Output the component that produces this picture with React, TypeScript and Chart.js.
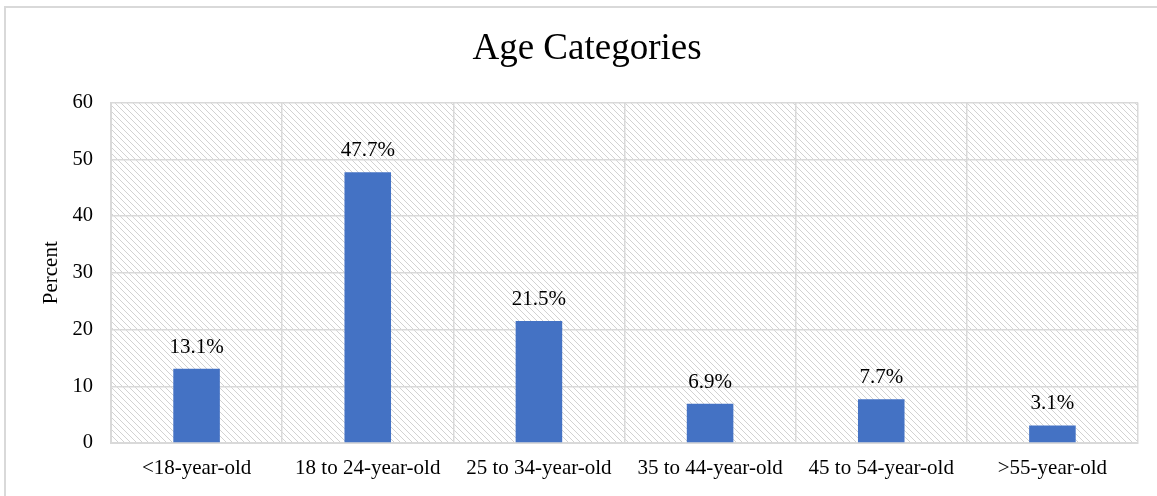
import React, { useEffect, useRef } from "react";
import { Chart, registerables } from "chart.js";

Chart.register(...registerables);

const categories = ["<18-year-old", "18 to 24-year-old", "25 to 34-year-old", "35 to 44-year-old", "45 to 54-year-old", ">55-year-old"];
const percentValues = [13.1, 47.7, 21.5, 6.9, 7.7, 3.1];
const valueLabels = ["13.1%", "47.7%", "21.5%", "6.9%", "7.7%", "3.1%"];
const titleText = "Age Categories";
const yAxisTitle = "Percent";

const FONT = "'Liberation Serif', 'Times New Roman', serif";

function makeHatch(): CanvasPattern | string {
  const s = 6;
  const c = document.createElement("canvas");
  c.width = s;
  c.height = s;
  const g = c.getContext("2d");
  if (!g) return "#fff";
  g.fillStyle = "#ffffff";
  g.fillRect(0, 0, s, s);
  g.strokeStyle = "#d2d2d2";
  g.lineWidth = 1;
  g.beginPath();
  g.moveTo(-1, -1);
  g.lineTo(s + 1, s + 1);
  g.moveTo(-1, s - 1);
  g.lineTo(1, s + 1);
  g.moveTo(s - 1, -1);
  g.lineTo(s + 1, 1);
  g.stroke();
  const p = g.createPattern(c, "repeat");
  return p || "#fff";
}

const hatchPlugin = {
  id: "hatchBg",
  beforeDraw(chart: any) {
    const { ctx, chartArea } = chart;
    ctx.save();
    ctx.fillStyle = makeHatch();
    ctx.fillRect(chartArea.left, chartArea.top, chartArea.right - chartArea.left, chartArea.bottom - chartArea.top);
    ctx.restore();
  },
};

const titlePlugin = {
  id: "customTitle",
  afterDraw(chart: any) {
    const { ctx } = chart;
    ctx.save();
    ctx.font = `37px ${FONT}`;
    ctx.fillStyle = "#000";
    ctx.textAlign = "center";
    ctx.textBaseline = "alphabetic";
    ctx.fillText(titleText, 587, 59);
    ctx.restore();
  },
};

const labelPlugin = {
  id: "barLabels",
  afterDatasetsDraw(chart: any) {
    const { ctx } = chart;
    const meta = chart.getDatasetMeta(0);
    ctx.save();
    ctx.font = `21px ${FONT}`;
    ctx.fillStyle = "#000";
    ctx.textAlign = "center";
    ctx.textBaseline = "alphabetic";
    meta.data.forEach((bar: any, i: number) => {
      ctx.fillText(valueLabels[i], bar.x, bar.y - 16);
    });
    ctx.restore();
  },
};

export default function App() {
  const ref = useRef<HTMLCanvasElement>(null);
  useEffect(() => {
    if (!ref.current) return;
    const chart = new Chart(ref.current, {
      type: "bar",
      data: {
        labels: categories,
        datasets: [
          {
            data: percentValues,
            backgroundColor: "#4472C4",
            borderWidth: 0,
            categoryPercentage: 1,
            barPercentage: 0.272,
          },
        ],
      },
      options: {
        responsive: false,
        animation: false,
        devicePixelRatio: 1,
        layout: { padding: { left: 0, right: 19, top: 102.5, bottom: 0 } },
        plugins: {
          legend: { display: false },
          tooltip: { enabled: false },
          title: { display: false },
        },
        scales: {
          x: {
            offset: true,
            grid: { display: true, offset: true, color: "#d9d9d9", lineWidth: 1.5, drawTicks: false },
            border: { display: true, color: "#d9d9d9", width: 2 },
            ticks: { color: "#000", font: { family: FONT, size: 21 }, padding: 13, maxRotation: 0, autoSkip: false },
            afterFit: (scale: any) => {
              scale.height = 53;
            },
          },
          y: {
            min: 0,
            max: 60,
            ticks: { stepSize: 10, color: "#000", font: { family: FONT, size: 20.5 }, padding: 18 },
            grid: { color: "#d9d9d9", lineWidth: 1.5, drawTicks: false },
            border: { display: true, color: "#d9d9d9", width: 2 },
            title: {
              display: true,
              text: yAxisTitle,
              color: "#000",
              font: { family: FONT, size: 21 },
              padding: { top: 39, bottom: 0 },
            },
            afterFit: (scale: any) => {
              scale.width = 111;
            },
          },
        },
      },
      plugins: [hatchPlugin, labelPlugin, titlePlugin],
    } as any);
    return () => chart.destroy();
  }, []);

  return (
    <div style={{ position: "fixed", left: 0, top: 0, width: 1157, height: 496, overflow: "hidden", background: "#fff" }}>
      <div
        style={{
          position: "absolute",
          left: 4,
          top: 6,
          width: 1200,
          height: 600,
          border: "2px solid #d9d9d9",
          boxSizing: "border-box",
        }}
      />
      <canvas
        ref={ref}
        width={1157}
        height={496}
        style={{ position: "absolute", left: 0, top: 0, width: 1157, height: 496 }}
      />
    </div>
  );
}
